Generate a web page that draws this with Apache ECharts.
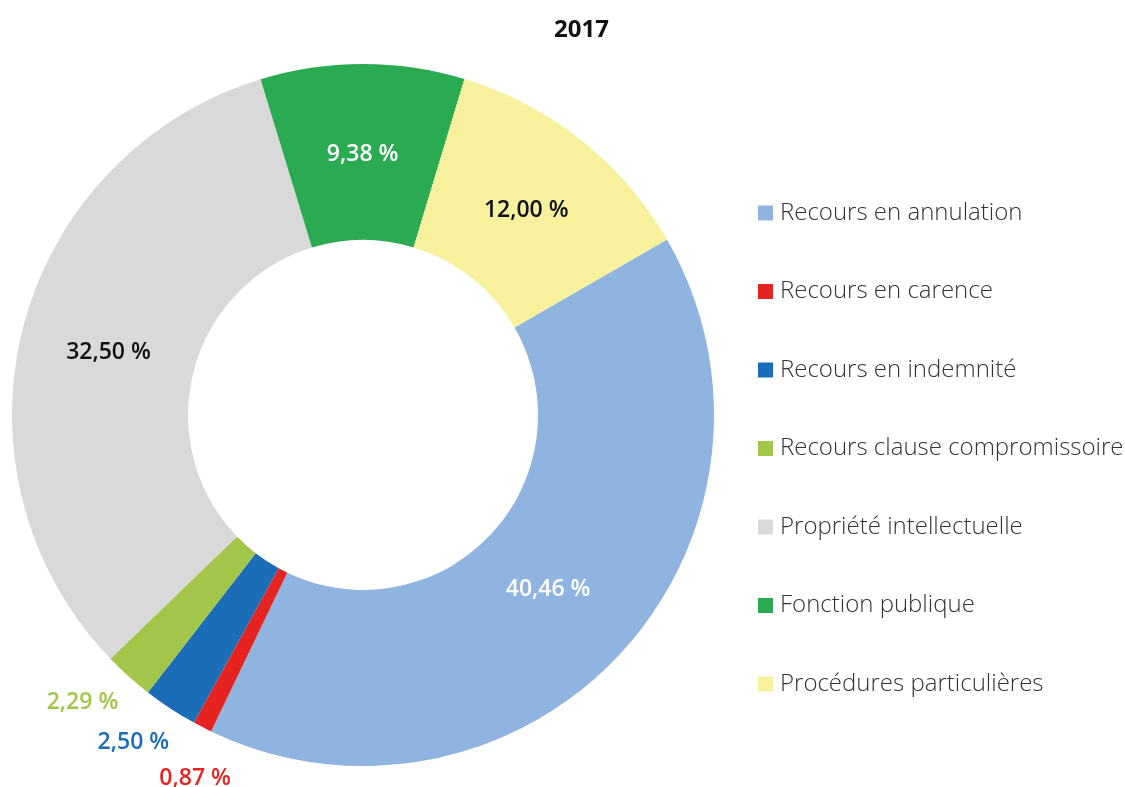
<!DOCTYPE html>
<html>
<head>
<meta charset="utf-8">
<script src="https://cdn.jsdelivr.net/npm/echarts@6/dist/echarts.min.js"></script>
<style>
  html, body { margin: 0; padding: 0; background: #fff; }
  #chart { width: 1125px; height: 787px; }
</style>
</head>
<body>
<div id="chart"></div>
<script>
const categories = [
  'Recours en annulation',
  'Recours en carence',
  'Recours en indemnité',
  'Recours clause compromissoire',
  'Propriété intellectuelle',
  'Fonction publique',
  'Procédures particulières'
];
const values = [40.46, 0.87, 2.50, 2.29, 32.50, 9.38, 12.00];
const colors = ['#8fb4e0', '#e52421', '#1a6db6', '#a2c64a', '#d9d9d9', '#2aab52', '#f7f09c'];
const labelColors = ['#ffffff', '#e52421', '#1a6db6', '#a2c64a', '#111111', '#ffffff', '#111111'];
// les petites parts ont leur étiquette hors de l'anneau
const outsideLabel = [false, true, true, true, false, false, false];
// petits décalages pour coller au placement d'origine
const labelOffsets = [[-10, -6], [16, 6], [-9, -9], [-12, -12], [3, 4], [0, 5], [-2, 4]];

const fmt = v => v.toFixed(2).replace('.', ',') + ' %';
const font = '"Open Sans", "Noto Sans", sans-serif';

const chart = echarts.init(document.getElementById('chart'));

const option = {
  animation: false,
  title: {
    text: '2017',
    left: 549,
    top: 13,
    textStyle: { fontFamily: font, fontSize: 24, fontWeight: 'bold', color: '#111' }
  },
  legend: {
    orient: 'vertical',
    left: 753,
    top: 196,
    itemWidth: 15,
    itemHeight: 15,
    itemGap: 54.5,
    icon: 'rect',
    data: categories,
    textStyle: {
      fontFamily: font, fontSize: 24, fontWeight: 300, color: '#333',
      lineHeight: 24, padding: [0, 0, 0, 2]
    }
  },
  series: [
    {
      type: 'pie',
      center: [363, 415],
      radius: [175, 351],
      startAngle: 30,
      clockwise: true,
      silent: true,
      itemStyle: { borderWidth: 0 },
      label: {
        position: 'inside',
        fontFamily: font,
        fontSize: 23,
        fontWeight: 600,
        formatter: p => fmt(p.value)
      },
      labelLine: { show: false },
      data: categories.map((name, i) => ({
        name,
        value: values[i],
        itemStyle: { color: colors[i] },
        label: { show: !outsideLabel[i], color: labelColors[i], offset: labelOffsets[i] }
      }))
    },
    {
      // anneau invisible qui porte les étiquettes extérieures
      type: 'pie',
      center: [363, 415],
      radius: [352, 446],
      startAngle: 30,
      clockwise: true,
      silent: true,
      legendHoverLink: false,
      itemStyle: { color: 'rgba(0,0,0,0)', borderWidth: 0 },
      label: {
        position: 'inside',
        fontFamily: font,
        fontSize: 23,
        fontWeight: 600,
        formatter: p => fmt(p.value)
      },
      labelLine: { show: false },
      data: categories.map((name, i) => ({
        name: name + ' ',
        value: values[i],
        label: { show: outsideLabel[i], color: labelColors[i], offset: labelOffsets[i] }
      }))
    }
  ]
};

chart.setOption(option);
</script>
</body>
</html>
